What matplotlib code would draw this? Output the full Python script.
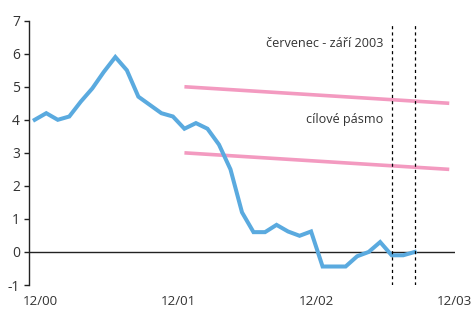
import matplotlib
matplotlib.use("Agg")
import matplotlib.pyplot as plt

plt.rcParams['font.family'] = ['Open Sans', 'DejaVu Sans']

# monthly inflation, 12/2000 .. 9/2003
months = list(range(34))
inflation = [4.0, 4.2, 4.0, 4.1, 4.55, 4.95, 5.45, 5.9, 5.5, 4.7, 4.45, 4.2,
             4.1, 3.73, 3.9, 3.73, 3.25, 2.5, 1.2, 0.6, 0.6, 0.82, 0.62, 0.49,
             0.62, -0.44, -0.44, -0.44, -0.13, 0.0, 0.3, -0.1, -0.1, 0.0]
band_x = [13, 36]
band_upper = [5.0, 4.5]
band_lower = [3.0, 2.5]
period_x = [31, 33]
xtick_pos = [0.45, 12.45, 24.45, 36.45]
xtick_labels = ['12/00', '12/01', '12/02', '12/03']
yticks = list(range(-1, 8))

fig = plt.figure(figsize=(4.72, 3.10), dpi=100)
ax = fig.add_axes([0.0614, 0.0806, 0.9026, 0.8527])

blue = '#5AAADF'
pink = '#F39AC0'
txt = '#333333'

ax.axhline(0, color='#222222', lw=1.0, zorder=1)
ax.plot(band_x, band_upper, color=pink, lw=2.6, solid_capstyle='butt', zorder=2)
ax.plot(band_x, band_lower, color=pink, lw=2.6, solid_capstyle='butt', zorder=2)
ax.plot(months, inflation, color=blue, lw=2.9, solid_joinstyle='miter', zorder=3)
for px in period_x:
    ax.plot([px, px], [-1, 6.9], color='black', lw=0.9, ls=(0, (2.5, 2.5)), zorder=4)

ax.text(30.3, 6.32, 'červenec - září 2003', ha='right', va='center', fontsize=9.1, color=txt)
ax.text(30.3, 4.0, 'cílové pásmo', ha='right', va='center', fontsize=9.1, color=txt)

ax.set_xlim(-0.5, 36.5)
ax.set_ylim(-1, 7)
ax.set_yticks(yticks)
ax.set_yticklabels([str(v) for v in yticks])
ax.set_xticks(xtick_pos)
ax.set_xticklabels(xtick_labels)
ax.tick_params(axis='x', length=0, pad=7, labelsize=9.6, labelcolor=txt)
ax.tick_params(axis='y', length=3.5, width=1.0, pad=3, labelsize=10, labelcolor=txt, color='#222222')
for s in ['top', 'right', 'bottom']:
    ax.spines[s].set_visible(False)
ax.spines['left'].set_linewidth(1.0)
ax.spines['left'].set_color('#222222')
ax.set_facecolor('white')
fig.patch.set_facecolor('white')

fig.savefig('out.png', dpi=100)
